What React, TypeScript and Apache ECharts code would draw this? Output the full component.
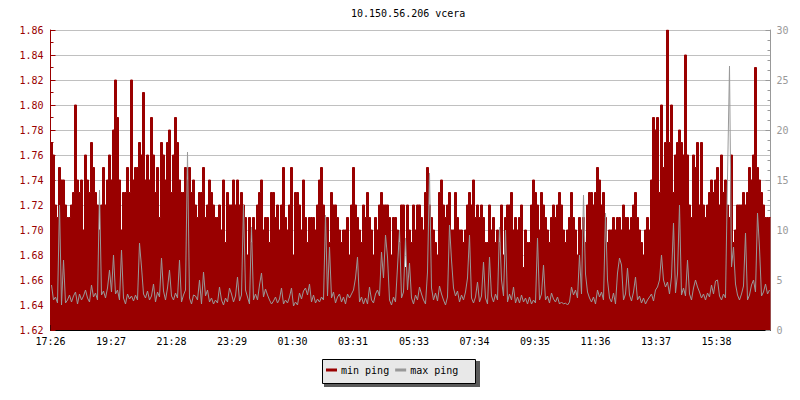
import React, { useEffect, useRef } from 'react';
import * as echarts from 'echarts';

const chartTitle = '10.150.56.206 vcera';
const seriesNames = ['min ping', 'max ping'];
const xTickLabels = ['17:26', '19:27', '21:28', '23:29', '01:30', '03:31', '05:33', '07:34', '09:35', '11:36', '13:37', '15:38'];
const spanMinutes = 1440;
const sampleStepMinutes = 4;

// min ping, in hundredths (172 -> 1.72), one sample every 4 minutes from 17:26
const minPingHundredths = [
  177,176,172,171,175,174,174,172,171,171,172,173,180,174,173,174,170,176,174,173,
  177,175,173,172,170,172,175,172,174,176,174,178,182,179,174,170,173,173,175,173,
  182,174,175,175,177,176,181,174,176,174,179,176,173,175,171,177,176,174,177,178,
  173,176,179,177,174,173,173,175,174,175,173,174,
  172,171,173,173,175,171,172,174,173,172,171,171,172,170,174,169,173,172,172,174,
  172,174,172,173,172,171,168,171,169,171,170,172,173,174,170,171,171,169,173,173,
  171,172,170,172,175,171,170,172,175,168,173,173,172,170,174,171,169,171,171,171,
  170,172,174,175,172,171,171,169,173,172,172,171,
  170,169,170,170,171,168,172,175,172,171,170,169,172,171,173,171,170,168,171,170,
  172,173,172,172,172,171,168,171,171,170,169,172,172,167,172,170,169,172,170,172,
  172,171,170,173,175,172,171,170,169,168,173,174,172,171,172,173,170,170,173,171,
  170,170,169,170,172,173,172,174,171,172,171,172,
  171,169,169,172,170,171,169,170,169,172,168,171,172,172,173,170,171,170,171,172,
  167,170,169,169,172,174,173,172,170,173,172,171,170,169,171,172,171,172,173,172,
  170,169,170,171,173,171,170,168,171,170,171,169,172,173,173,172,173,175,174,172,
  173,171,169,170,170,171,170,171,171,170,172,171,
  171,170,171,172,173,171,170,169,168,170,171,170,174,179,178,179,173,180,175,177,
  186,177,180,173,176,177,178,177,176,184,176,172,171,176,175,177,172,177,172,171,
  172,173,174,173,174,175,172,176,173,174,172,171,176,169,170,172,172,172,173,172,
  173,175,174,176,183,175,174,173,172,171,171,171,
];

// max ping, one sample every 4 minutes from 17:26
const maxPing = [
  4.5,3.0,3.3,2.7,12.5,2.5,7.0,2.7,3.0,3.5,2.8,3.4,3.8,2.6,3.6,3.0,3.4,4.0,3.2,2.8,
  4.5,3.3,3.7,3.0,14.0,3.5,3.9,3.2,4.2,6.0,3.8,7.5,3.6,4.0,3.0,8.0,3.2,2.6,3.6,3.1,
  3.4,2.9,3.5,3.0,8.7,6.3,3.6,3.2,3.9,3.0,3.4,4.6,2.8,3.8,3.3,7.2,3.9,3.0,4.2,6.0,
  3.4,3.0,3.7,3.2,7.0,2.8,3.5,4.0,17.8,3.2,2.6,3.5,
  3.4,3.0,5.0,2.6,5.8,3.4,4.0,2.8,3.2,2.6,3.0,2.7,4.3,3.0,2.5,3.2,2.8,4.2,3.6,2.8,
  3.4,5.3,2.9,3.5,12.5,4.0,3.3,2.6,10.3,3.0,3.6,3.0,4.5,5.7,3.3,4.1,3.5,3.0,2.6,2.9,
  3.3,2.7,3.1,4.2,2.6,3.0,2.7,3.3,4.2,2.4,2.8,2.5,3.7,3.1,3.9,4.2,3.5,4.6,2.8,3.5,
  2.7,3.1,2.8,3.3,3.0,11.5,3.4,8.3,3.2,3.8,2.7,3.3,
  3.6,2.8,3.3,2.6,3.6,3.2,3.6,4.0,5.2,7.3,2.8,3.3,2.6,3.2,2.6,4.3,3.0,2.7,3.6,4.0,
  3.4,7.8,5.2,9.5,7.3,3.0,2.5,3.3,2.8,6.3,10.0,3.2,3.8,9.2,4.0,6.7,3.2,2.6,3.5,3.0,
  4.3,3.6,3.0,2.6,5.8,15.7,4.2,3.0,3.7,2.9,4.4,3.6,3.0,2.5,3.3,10.5,7.0,4.2,3.4,3.9,
  2.8,3.5,3.0,3.8,5.2,9.5,3.2,2.7,3.3,4.8,2.8,3.4,
  6.8,3.2,2.6,7.3,3.4,2.8,3.6,3.0,10.3,5.0,3.4,10.0,2.8,3.6,3.0,4.3,2.7,3.3,2.7,3.5,
  2.8,3.2,2.6,3.3,2.6,3.0,2.7,9.2,3.0,3.6,6.5,3.0,3.4,2.7,3.7,3.1,2.8,3.3,2.6,2.8,
  2.6,2.7,2.5,2.8,4.3,3.5,4.0,3.2,7.5,3.6,13.5,5.6,3.8,3.2,2.8,3.3,2.6,4.0,3.3,3.8,
  3.0,11.7,5.0,3.2,2.8,3.7,2.6,5.7,7.2,6.5,3.0,3.6,
  6.2,3.5,2.9,3.8,5.3,3.0,3.4,2.7,3.2,2.6,3.0,3.3,3.6,2.9,4.0,4.3,5.0,7.5,5.0,4.3,
  4.8,3.6,5.3,10.7,3.7,5.6,12.5,3.5,4.2,3.4,7.0,3.6,3.0,4.2,5.0,4.3,3.8,3.2,3.6,3.0,
  3.7,3.3,4.5,3.6,4.9,5.0,3.4,3.0,3.6,3.2,15.3,26.4,6.3,8.3,4.6,3.5,3.0,3.6,4.4,9.7,
  3.0,3.5,4.5,5.0,3.8,11.7,8.2,3.4,3.8,4.6,3.6,4.0,
];

const leftMin = 1.62;
const leftMax = 1.86;
const leftStep = 0.02;
const rightMin = 0;
const rightMax = 30;
const rightStep = 5;

const MONO = '"DejaVu Sans Mono", "Liberation Mono", monospace';
const RED = '#990000';
const GRAY = '#999999';

function toMinutes(label: string): number {
  const [h, m] = label.split(':').map(Number);
  return h * 60 + m;
}

export default function App() {
  const ref = useRef<HTMLDivElement>(null);

  useEffect(() => {
    document.body.style.margin = '0';
    if (!ref.current) return;
    const chart = echarts.init(ref.current, null, { renderer: 'svg' });

    const start = toMinutes(xTickLabels[0]);
    const tickValues = xTickLabels.map((l) => (toMinutes(l) - start + 1440) % 1440);
    const labelFor: Record<number, string> = {};
    tickValues.forEach((v, i) => (labelFor[v] = xTickLabels[i]));

    const stepped = (vals: number[]) => {
      const pts = vals.map((v, i) => [i * sampleStepMinutes, v]);
      pts.push([vals.length * sampleStepMinutes, vals[vals.length - 1]]);
      return pts;
    };
    const minData = stepped(minPingHundredths.map((v) => v / 100));
    const maxData = maxPing.map((v, i) => [i * sampleStepMinutes + sampleStepMinutes / 2, v]);

    chart.setOption({
      animation: false,
      backgroundColor: '#ffffff',
      title: {
        text: chartTitle,
        left: 351,
        top: 8,
        padding: 0,
        textStyle: { fontFamily: MONO, fontSize: 10, fontWeight: 'normal', color: '#000' },
      },
      grid: { left: 50.5, right: 29.5, top: 30, bottom: 70, containLabel: false },
      graphic: [
        { type: 'rect', z: 0, shape: { x: 324, y: 361, width: 156, height: 26 }, style: { fill: '#5a5a5a' } },
        { type: 'rect', z: 0, shape: { x: 322.5, y: 359.5, width: 153, height: 24 }, style: { fill: '#e8e8e8', stroke: '#000', lineWidth: 1 } },
      ],
      legend: {
        data: seriesNames,
        left: 326,
        top: 365,
        padding: 0,
        itemGap: 6,
        itemWidth: 11,
        itemHeight: 3,
        icon: 'rect',
        z: 10,
        textStyle: { fontFamily: MONO, fontSize: 10, color: '#000', padding: [0, 0, 0, -1] },
        selectedMode: false,
      },
      xAxis: {
        type: 'value',
        min: 0,
        max: spanMinutes,
        axisLine: { show: true, lineStyle: { color: '#000', width: 1 } },
        axisTick: { show: true, inside: true, length: 5, customValues: tickValues, lineStyle: { color: '#000' } },
        axisLabel: {
          customValues: tickValues,
          formatter: (v: number) => labelFor[Math.round(v)] ?? '',
          fontFamily: MONO,
          fontSize: 10,
          color: '#000',
          margin: 6,
        },
        splitLine: { show: false },
      },
      yAxis: [
        {
          type: 'value',
          position: 'left',
          min: leftMin,
          max: leftMax,
          interval: leftStep,
          axisLine: { show: true, lineStyle: { color: RED, width: 1 } },
          axisTick: { show: true, inside: true, length: 5, lineStyle: { color: RED } },
          minorTick: { show: true, splitNumber: 2, length: 3, lineStyle: { color: RED } },
          axisLabel: { formatter: (v: number) => v.toFixed(2), fontFamily: MONO, fontSize: 10, color: RED, margin: 7 },
          splitLine: { show: true, lineStyle: { color: '#c0c0c0', width: 1 } },
        },
        {
          type: 'value',
          position: 'right',
          min: rightMin,
          max: rightMax,
          interval: rightStep,
          axisLine: { show: true, lineStyle: { color: GRAY, width: 1 } },
          axisTick: { show: true, inside: true, length: 5, lineStyle: { color: GRAY } },
          minorTick: { show: true, splitNumber: 5, length: 3, lineStyle: { color: GRAY } },
          axisLabel: { fontFamily: MONO, fontSize: 10, color: GRAY, margin: 6 },
          splitLine: { show: false },
        },
      ],
      series: [
        {
          name: seriesNames[0],
          type: 'line',
          yAxisIndex: 0,
          step: 'end',
          symbol: 'none',
          silent: true,
          color: RED,
          lineStyle: { color: RED, width: 1 },
          areaStyle: { color: RED, opacity: 1 },
          data: minData,
          z: 2,
        },
        {
          name: seriesNames[1],
          type: 'line',
          yAxisIndex: 1,
          symbol: 'none',
          silent: true,
          color: GRAY,
          lineStyle: { color: GRAY, width: 1 },
          data: maxData,
          z: 3,
        },
      ],
    });

    return () => chart.dispose();
  }, []);

  return <div ref={ref} style={{ width: 800, height: 400 }} />;
}
